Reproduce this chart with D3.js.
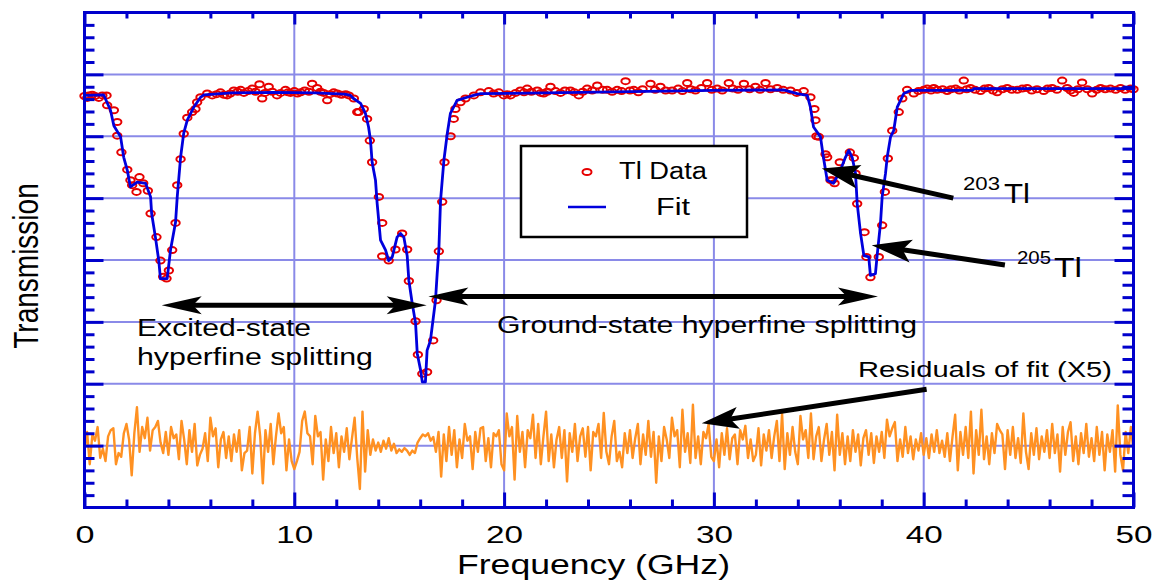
<!DOCTYPE html>
<html><head><meta charset="utf-8">
<script src="https://cdn.jsdelivr.net/npm/d3@7"></script>
<style>html,body{margin:0;padding:0;background:#fff;} svg{display:block;font-family:"Liberation Sans",Arial,Helvetica,sans-serif;}</style>
</head><body><svg id="chart" width="1153" height="580"></svg>
<script>
// ---------- data (frequency in GHz, transmission in arbitrary units) ----------
const fitPoints = [[0,0.966],[0.91,0.967],[1.24,0.942],[1.40,0.917],[1.72,0.899],[1.87,0.866],[2.04,0.845],[2.19,0.818],[2.51,0.826],[2.91,0.824],
[3.15,0.802],[3.20,0.775],[3.38,0.737],[3.54,0.699],[3.62,0.670],[3.94,0.670],[4.10,0.716],[4.34,0.761],[4.42,0.802],[4.58,0.866],
[4.73,0.905],[4.90,0.926],[5.21,0.947],[5.53,0.963],[5.69,0.967],[7.0,0.970],[9.0,0.971],[11.0,0.970],[12.4,0.968],[12.68,0.966],
[12.82,0.961],[13.16,0.953],[13.39,0.937],[13.54,0.915],[13.63,0.894],[13.71,0.858],[13.87,0.829],[13.95,0.791],[14.11,0.732],[14.35,0.716],
[14.50,0.699],[14.67,0.705],[14.90,0.737],[15.06,0.743],[15.22,0.737],[15.38,0.707],[15.46,0.667],[15.62,0.630],[15.78,0.598],[15.86,0.549],
[16.02,0.522],[16.10,0.503],[16.25,0.503],[16.33,0.554],[16.49,0.570],[16.73,0.635],[16.81,0.678],[16.89,0.716],[16.97,0.796],[17.13,0.861],
[17.29,0.904],[17.44,0.937],[17.76,0.958],[18.24,0.963],[18.54,0.966],[18.88,0.969],[22.0,0.970],[26.0,0.972],[30.0,0.974],[33.32,0.975],
[33.97,0.969],[34.45,0.966],[34.60,0.947],[34.75,0.915],[35.08,0.899],[35.22,0.866],[35.40,0.829],[35.70,0.824],[36.03,0.845],[36.27,0.866],
[36.43,0.877],[36.59,0.866],[36.75,0.840],[36.83,0.791],[36.99,0.743],[37.15,0.707],[37.38,0.705],[37.46,0.675],[37.70,0.678],[37.78,0.707],
[37.94,0.759],[38.02,0.802],[38.18,0.840],[38.26,0.866],[38.42,0.899],[38.57,0.909],[38.74,0.947],[39.05,0.969],[39.37,0.974],[42.3,0.974],
[42.4,0.977],[50,0.977]];

const dataPoints = [[0.0,0.965],[0.13,0.962],[0.2,0.966],[0.37,0.967],[0.5,0.965],[0.68,0.962],[0.85,0.966],
[1.05,0.966],[1.08,0.950],[1.40,0.942],[1.56,0.923],[1.56,0.901],[1.76,0.874],[2.04,0.846],[2.19,0.829],[2.27,0.821],[2.48,0.810],[2.62,0.834],[2.80,0.824],[3.02,0.812],
[3.15,0.775],[3.43,0.737],[3.62,0.699],[3.75,0.673],[3.91,0.670],[4.02,0.683],[4.18,0.716],[4.34,0.760],[4.42,0.821],[4.58,0.863],[4.73,0.904],[4.90,0.930],[5.13,0.939],[5.29,0.944],[5.37,0.955],[5.53,0.963],
[5.85,0.969],[6.09,0.966],[6.3,0.968],[6.48,0.971],[6.65,0.967],[6.80,0.966],[6.95,0.969],[7.12,0.974],[7.3,0.972],[7.44,0.975],[7.6,0.970],[7.8,0.973],[7.99,0.977],[8.15,0.972],[8.34,0.984],[8.47,0.961],[8.6,0.970],[8.78,0.980],[8.95,0.972],
[9.18,0.966],[9.35,0.970],[9.58,0.975],[9.7,0.971],[9.82,0.970],[10.0,0.973],[10.15,0.969],[10.30,0.971],[10.5,0.974],[10.7,0.972],[10.85,0.985],[11.09,0.978],[11.25,0.972],[11.4,0.970],[11.57,0.958],[11.7,0.968],[11.88,0.971],[12.05,0.969],[12.25,0.967],[12.45,0.968],[12.6,0.966],
[12.84,0.961],[13.0,0.939],[13.07,0.939],[13.31,0.944],[13.47,0.928],[13.60,0.893],[13.71,0.858],[14.03,0.802],[14.19,0.760],[14.19,0.706],[14.50,0.699],[14.82,0.717],[15.14,0.743],[15.38,0.717],[15.46,0.666],[15.78,0.601],[15.89,0.547],[16.10,0.516],[16.33,0.519],[16.62,0.570],[16.78,0.635],[16.89,0.714],[17.05,0.794],[17.16,0.858],[17.45,0.900],[17.60,0.928],[17.68,0.944],[17.92,0.955],[18.16,0.961],[18.56,0.966],[18.87,0.971],
[19.27,0.973],[19.5,0.969],[19.75,0.971],[19.99,0.966],[20.15,0.968],[20.31,0.966],[20.55,0.970],[20.78,0.974],[20.95,0.971],[21.10,0.977],[21.3,0.972],[21.58,0.974],[21.75,0.970],[21.89,0.969],[22.05,0.972],[22.21,0.980],[22.45,0.973],[22.69,0.970],[22.9,0.974],[23.16,0.974],[23.35,0.971],[23.56,0.966],[23.75,0.972],[23.96,0.977],[24.2,0.974],[24.44,0.982],[24.7,0.975],[24.91,0.975],[25.15,0.972],[25.39,0.975],[25.6,0.973],[25.79,0.989],[26.0,0.974],[26.18,0.975],[26.4,0.971],[26.6,0.976],[26.98,0.985],[27.2,0.975],[27.45,0.980],[27.7,0.974],[28.01,0.974],[28.3,0.977],[28.5,0.973],[28.73,0.986],[28.9,0.976],[29.12,0.974],[29.4,0.978],[29.68,0.986],[29.9,0.975],[30.16,0.977],[30.4,0.974],[30.71,0.986],[30.9,0.977],[31.15,0.975],[31.43,0.985],[31.7,0.976],[31.98,0.980],[32.2,0.975],[32.46,0.986],[32.7,0.976],[33.02,0.978],[33.3,0.975],[33.65,0.974],[33.95,0.970],[34.28,0.973],
[34.60,0.963],[34.79,0.944],[34.84,0.926],[34.89,0.900],[35.00,0.899],[35.32,0.871],[35.40,0.866],[35.56,0.829],[35.64,0.829],[35.75,0.824],[36.00,0.858],[36.48,0.874],[36.67,0.865],[36.75,0.840],[36.83,0.791],[37.18,0.745],[37.27,0.705],[37.46,0.672],[37.86,0.705],[38.02,0.756],[38.15,0.810],[38.29,0.864],[38.50,0.909],[38.81,0.939],[38.98,0.961],
[39.21,0.975],[39.53,0.969],[39.75,0.973],[40.00,0.975],[40.17,0.977],[40.35,0.974],[40.48,0.978],[40.64,0.975],[40.9,0.976],[41.12,0.973],[41.3,0.976],[41.52,0.977],[41.7,0.974],[41.91,0.990],[42.05,0.976],[42.23,0.978],[42.45,0.975],[42.71,0.973],[42.9,0.977],[43.10,0.978],[43.3,0.974],[43.50,0.971],[43.75,0.976],[43.98,0.978],[44.2,0.975],[44.46,0.975],[44.7,0.977],[44.93,0.978],[45.15,0.974],[45.4,0.976],[45.72,0.973],[45.9,0.977],[46.12,0.978],[46.35,0.975],[46.60,0.990],[46.84,0.978],[47.0,0.974],[47.15,0.970],[47.35,0.976],[47.55,0.987],[47.8,0.976],[48.03,0.969],[48.25,0.975],[48.43,0.978],[48.65,0.976],[48.90,0.977],[49.15,0.975],[49.38,0.978],[49.6,0.975],[49.86,0.977],[50.0,0.976]];

// residuals of fit (x5), in thousandths, sampled every 0.125 GHz from 0 GHz, plotted about the 0.4 level
const residualStep = 0.125;
const residualOffset = 0.4;
const residualMilli = [
-8,22,-30,18,8,30,-20,-5, -25,15,25,28,-30,-12,-18,20, 35,10,-48,20,62,-10,30,12, 45,-8,25,30,40,5,-12,22,
-15,30,12,18,-22,40,10,-30, 25,-10,35,-32,-15,-5,20,-25, 45,15,28,-35,10,22,-20,15, -25,18,-10,25,-40,-12,-8,30,
-45,20,55,15,-61,25,-10,35, -30,15,52,20,30,-40,10,-25, -38,-25,-10,40,55,20,15,-30, 48,15,22,-55,10,-25,30,-12,
20,-35,15,-10,28,-22,12,45, -20,-70,55,-42,25,-15,10,-8, 5,-10,8,-5,12,-8,3,-12, -6,-10,-4,-8,-15,-8,-12,5,
12,18,15,20,8,14,-10,22, -50,18,-25,30,-15,25,-35,10, -20,35,8,15,-38,22,-10,28, 30,-25,12,-35,20,15,25,-30,
-40,52,15,30,-55,48,-10,22, -35,25,12,50,-20,35,-30,15, 55,-25,18,-35,10,30,-20,25, -58,20,-10,35,-25,15,28,-18,
30,-40,22,15,35,-20,53,-10, -30,15,40,-25,-10,-35,20,-12, 25,-20,12,35,-30,18,-15,40, -18,22,-60,15,-25,30,10,-20,
45,15,25,-35,58,-10,20,-28, 66,-20,15,-30,22,12,35,-18, -25,10,-35,20,-15,28,-22,12, 18,-30,25,10,32,-20,10,-25,
-15,28,-32,18,-8,25,-20,15, 40,-25,52,-38,20,-15,30,-10, -30,48,10,25,-20,52,-22,15, 30,-25,10,35,-15,22,-40,50,
-15,20,-30,15,-25,25,-10,18, -32,12,25,-15,20,-28,15,-10, 22,-20,42,15,28,38,-25,10, -18,30,-12,15,-22,10,-8,20,
-15,12,-20,18,-10,25,-12,8, -18,20,-25,15,50,-40,22,-15, 30,-20,55,-45,25,-15,58,-22, 15,-30,20,-12,35,25,18,-38,
25,-15,30,-20,12,-28,52,-10, -38,20,-15,28,-22,15,-10,25, -20,35,-12,18,-42,30,-15,22, 38,-25,15,-30,20,-12,35,-18,
12,-25,30,-15,22,-40,18,-10, 25,-42,65,-15,-40,22,-12,30, -8];

const xMajorTicks = [0,10,20,30,40,50];
const yMajorTicks = [0.4,0.5,0.6,0.7,0.8,0.9,1.0];

// ---------- scales ----------
const svg = d3.select("#chart");
const x = d3.scaleLinear().domain([0,50]).range([84.5,1133.5]);
const y = d3.scaleLinear().domain([0.3,1.1]).range([507.5,12.5]);

const AXIS = "#0000cc", GRID = "#8a8ae8", FIT = "#0000dd", DATA = "#e60000", RES = "#ff9122";

const xMinorTicks = d3.range(0,50.001,2).filter(v => Math.round(v) % 10 !== 0);
const yMinorTicks = d3.range(0.3,1.1001,0.02).map(v => +v.toFixed(2)).filter(v => Math.round(v*100) % 10 !== 0);

// grid
const grid = svg.append("g");
grid.selectAll("line.v").data(xMajorTicks.slice(1,-1)).join("line")
  .attr("x1",d=>x(d)).attr("x2",d=>x(d)).attr("y1",y(1.1)).attr("y2",y(0.3))
  .attr("stroke",GRID).attr("stroke-width",2);
grid.selectAll("line.h").data(yMajorTicks).join("line")
  .attr("x1",x(0)).attr("x2",x(50)).attr("y1",d=>y(d)).attr("y2",d=>y(d))
  .attr("stroke",GRID).attr("stroke-width",2);

// residuals
const resLine = d3.line().x((d,i)=>x(i*residualStep)).y(d=>y(residualOffset + d/1000));
svg.append("path").attr("d",resLine(residualMilli)).attr("fill","none")
  .attr("stroke",RES).attr("stroke-width",2.4).attr("stroke-linejoin","round");

// data ellipses
svg.append("g").selectAll("ellipse").data(dataPoints).join("ellipse")
  .attr("cx",d=>x(d[0])).attr("cy",d=>y(d[1])).attr("rx",4.2).attr("ry",3)
  .attr("fill","none").attr("stroke",DATA).attr("stroke-width",2);

// fit
const fitLine = d3.line().x(d=>x(d[0])).y(d=>y(d[1]));
svg.append("path").attr("d",fitLine(fitPoints)).attr("fill","none")
  .attr("stroke",FIT).attr("stroke-width",2.8).attr("stroke-linejoin","round");

// ---------- axes ----------
function styleAxis(g){
  g.select(".domain").remove();
  g.selectAll(".tick line").attr("stroke",AXIS).attr("stroke-width",3);
}
const bottomY = y(0.3), topY = y(1.1), leftX = x(0), rightX = x(50);
svg.append("g").attr("transform",`translate(0,${bottomY})`)
  .call(d3.axisBottom(x).tickValues(xMinorTicks).tickSize(-8).tickFormat("")).call(styleAxis);
const bAx = svg.append("g").attr("transform",`translate(0,${bottomY})`)
  .call(d3.axisBottom(x).tickValues(xMajorTicks).tickSize(-15).tickPadding(19).tickFormat(d3.format("d"))).call(styleAxis);
bAx.selectAll(".tick text").attr("fill","#000").attr("font-size",23)
  .attr("font-family",'"Liberation Sans",Arial,sans-serif')
  .attr("textLength",d=> d<10 ? 19 : 37).attr("lengthAdjust","spacingAndGlyphs");
svg.append("g").attr("transform",`translate(0,${topY})`)
  .call(d3.axisTop(x).tickValues(xMinorTicks).tickSize(-6).tickFormat("")).call(styleAxis);
svg.append("g").attr("transform",`translate(0,${topY})`)
  .call(d3.axisTop(x).tickValues(xMajorTicks).tickSize(-12).tickFormat("")).call(styleAxis);
svg.append("g").attr("transform",`translate(${leftX},0)`)
  .call(d3.axisLeft(y).tickValues(yMinorTicks).tickSize(-10).tickFormat("")).call(styleAxis);
svg.append("g").attr("transform",`translate(${leftX},0)`)
  .call(d3.axisLeft(y).tickValues(yMajorTicks).tickSize(-19).tickFormat("")).call(styleAxis);
svg.append("g").attr("transform",`translate(${rightX},0)`)
  .call(d3.axisRight(y).tickValues(yMinorTicks).tickSize(-11).tickFormat("")).call(styleAxis);
svg.append("g").attr("transform",`translate(${rightX},0)`)
  .call(d3.axisRight(y).tickValues(yMajorTicks).tickSize(-19).tickFormat("")).call(styleAxis);

svg.append("rect").attr("x",leftX).attr("y",topY).attr("width",rightX-leftX).attr("height",bottomY-topY)
  .attr("fill","none").attr("stroke",AXIS).attr("stroke-width",3);

// ---------- text helper ----------
function label(txt, px, py, size, len, anchor){
  return svg.append("text").attr("x",px).attr("y",py).attr("font-size",size)
    .attr("text-anchor",anchor||"start").attr("fill","#000")
    .attr("textLength",len).attr("lengthAdjust","spacingAndGlyphs").text(txt);
}

// axis titles
label("Frequency (GHz)", 457, 574, 27, 273);
svg.append("text").attr("transform","translate(38,266) rotate(-90) scale(1,1.25)")
  .attr("text-anchor","middle").attr("font-size",28).attr("fill","#000").text("Transmission");

// ---------- legend ----------
svg.append("rect").attr("x",521).attr("y",146).attr("width",226).attr("height",91)
  .attr("fill","#fff").attr("stroke","#000").attr("stroke-width",2.5);
svg.append("ellipse").attr("cx",587).attr("cy",172).attr("rx",4.5).attr("ry",3)
  .attr("fill","none").attr("stroke",DATA).attr("stroke-width",2);
label("Tl Data", 619, 179, 23, 88);
svg.append("line").attr("x1",568).attr("x2",606).attr("y1",207).attr("y2",207)
  .attr("stroke",FIT).attr("stroke-width",2.6);
label("Fit", 656, 215, 23, 34);

// ---------- annotations ----------
function head(tipX, tipY, fromX, fromY, L, W){
  const dx = fromX-tipX, dy = fromY-tipY, n = Math.hypot(dx,dy), ux = dx/n, uy = dy/n, px = -uy, py = ux;
  const pts = [[tipX,tipY],[tipX+ux*L+px*W, tipY+uy*L+py*W],[tipX+ux*L*0.78, tipY+uy*L*0.78],[tipX+ux*L-px*W, tipY+uy*L-py*W]];
  svg.append("polygon").attr("points",pts.map(p=>p.join(",")).join(" ")).attr("fill","#000");
}
function arrow(from, to, L, W, both){
  const x1 = x(from[0]), y1 = y(from[1]), x2 = x(to[0]), y2 = y(to[1]);
  const dx = x2-x1, dy = y2-y1, n = Math.hypot(dx,dy);
  const s = both ? L*0.7/n : 0, e = L*0.7/n;
  svg.append("line").attr("x1",x1+dx*s).attr("y1",y1+dy*s).attr("x2",x2-dx*e).attr("y2",y2-dy*e)
    .attr("stroke","#000").attr("stroke-width",5);
  head(x2,y2,x1,y1,L,W);
  if(both) head(x1,y1,x2,y2,L,W);
}
const excitedArrow = [[3.68,0.627],[16.31,0.627]];
const groundArrow = [[16.39,0.641],[37.82,0.641]];
const tl203Arrow = [[41.41,0.800],[35.14,0.848]];
const tl205Arrow = [[43.87,0.692],[37.52,0.724]];
const residualArrow = [[40.14,0.491],[29.42,0.436]];

arrow(excitedArrow[0], excitedArrow[1], 40, 9, true);
arrow(groundArrow[0], groundArrow[1], 40, 9, true);
arrow(tl203Arrow[0], tl203Arrow[1], 38, 12, false);
arrow(tl205Arrow[0], tl205Arrow[1], 40, 11.5, false);
arrow(residualArrow[0], residualArrow[1], 37, 11, false);

label("Excited-state", 137, 336, 23, 174);
label("hyperfine splitting", 137, 365, 23, 236);
label("Ground-state hyperfine splitting", 497, 333, 23, 420);
label("Residuals of fit (X5)", 858, 377, 22, 254);
label("203", 963, 190, 18, 37);
label("Tl", 1004, 203, 27, 26);
label("205", 1017, 264, 18, 34);
label("Tl", 1054, 277, 27, 28);
</script></body></html>
